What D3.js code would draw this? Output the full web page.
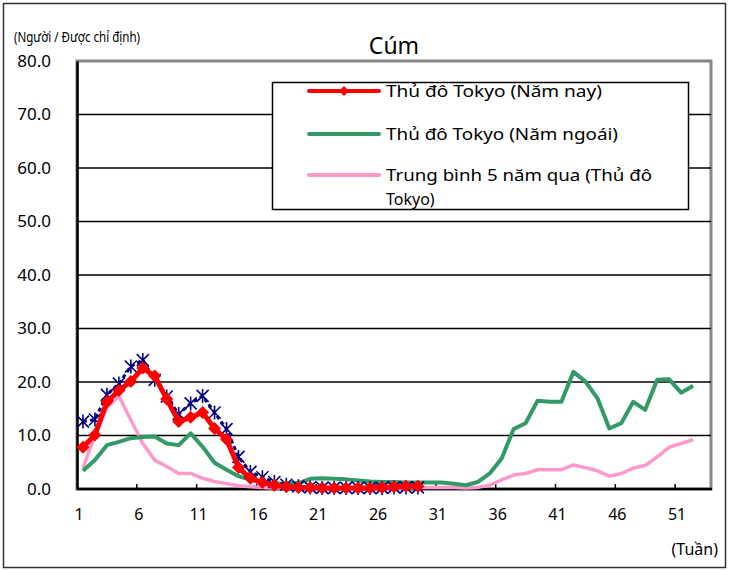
<!DOCTYPE html>
<html lang="vi">
<head>
    <meta charset="UTF-8">
    <title>Cúm</title>
    <style>
        body { margin: 0; background: #fff; }
        text { font-family: "Noto Sans", "DejaVu Sans", sans-serif; fill: #000; }
    </style>
</head>
<body>
<div id="chart"></div>
<script src="https://d3js.org/d3.v7.min.js"></script>
<script>

    // week numbers and series (cases per sentinel site)
    var weeks = d3.range(1, 54);
    var tickWeeks = [1, 6, 11, 16, 21, 26, 31, 36, 41, 46, 51];
    var yTicks = [0, 10, 20, 30, 40, 50, 60, 70, 80];

    var thisYear = [7.8, 10.1, 16.3, 18.4, 20.1, 22.6, 21.1, 16.8, 12.6, 13.4,
        14.3, 11.3, 9.3, 4.0, 2.0, 1.2, 0.7, 0.4, 0.3, 0.3,
        0.2, 0.2, 0.2, 0.2, 0.2, 0.3, 0.4, 0.5, 0.5];

    var nationwide = [12.6, 13.0, 17.6, 19.7, 22.9, 24.1, 20.4, 17.3, 14.0, 16.0,
        17.4, 14.3, 11.2, 6.0, 3.2, 2.2, 1.3, 0.8, 0.5, 0.3,
        0.2, 0.2, 0.2, 0.2, 0.2, 0.2, 0.3, 0.3, 0.3];

    var lastYear = [3.4, 5.4, 8.2, 8.8, 9.5, 9.7, 9.8, 8.5, 8.2, 10.4,
        7.9, 4.9, 3.6, 2.4, 1.7, 1.4, 1.0, 1.0, 1.1, 1.9,
        2.0, 1.9, 1.8, 1.6, 1.4, 1.3, 1.3, 1.2, 1.2, 1.2,
        1.2, 1.0, 0.7, 1.3, 2.9, 5.7, 11.2, 12.3, 16.5, 16.3,
        16.3, 21.9, 20.1, 17.0, 11.3, 12.3, 16.3, 14.8, 20.4, 20.5,
        18.0, 19.3];

    var avg5 = [3.9, 10.0, 15.2, 17.4, 12.9, 8.5, 5.4, 4.2, 2.9, 2.9,
        2.0, 1.4, 1.0, 0.6, 0.4, 0.3, 0.2, 0.2, 0.2, 0.2,
        0.2, 0.2, 0.2, 0.2, 0.2, 0.2, 0.2, 0.2, 0.3, 0.3,
        0.3, 0.3, 0.2, 0.3, 0.7, 1.7, 2.6, 2.9, 3.6, 3.6,
        3.6, 4.5, 4.0, 3.4, 2.4, 2.9, 3.9, 4.4, 6.0, 7.8,
        8.5, 9.2];

    var legendNames = ["Thủ đô Tokyo (Năm nay)", "Thủ đô Tokyo (Năm ngoái)",
        "Trung bình 5 năm qua (Thủ đô", "Tokyo)"];

    var width = 729,
        height = 571;

    var svg = d3.select("#chart").append("svg")
        .attr("width", width)
        .attr("height", height);

    var plotLeft = 77, plotRight = 711, plotTop = 61, plotBottom = 489;

    var x = d3.scaleBand()
        .domain(weeks)
        .range([plotLeft, plotRight]);

    var y = d3.scaleLinear()
        .domain([0, 80])
        .range([plotBottom, plotTop]);

    function cx(d, i) { return x(weeks[i]) + x.bandwidth() / 2; }

    // outer frame
    svg.append("rect")
        .attr("x", 3.5).attr("y", 3.5)
        .attr("width", 722).attr("height", 564)
        .attr("fill", "#fff")
        .attr("stroke", "#333")
        .attr("stroke-width", 1.5);

    // plot frame (gray top/right)
    svg.append("rect")
        .attr("x", plotLeft).attr("y", plotTop)
        .attr("width", plotRight - plotLeft).attr("height", plotBottom - plotTop)
        .attr("fill", "none")
        .attr("stroke", "#888")
        .attr("stroke-width", 3);

    // gridlines
    svg.append("g")
        .selectAll("line")
        .data(yTicks.slice(1, -1))
        .enter().append("line")
        .attr("x1", plotLeft).attr("x2", plotRight)
        .attr("y1", function (d) { return y(d); })
        .attr("y2", function (d) { return y(d); })
        .attr("stroke", "#000")
        .attr("stroke-width", 1.3);

    // y axis
    var yAxis = svg.append("g")
        .attr("transform", "translate(" + plotLeft + ",0)")
        .call(d3.axisLeft(y).tickValues(yTicks).tickSize(0).tickPadding(26)
            .tickFormat(d3.format(".1f")));
    yAxis.select(".domain").attr("stroke", "#000").attr("stroke-width", 2.5);
    yAxis.selectAll("text")
        .attr("font-size", "17px")
        .attr("font-family", "Noto Sans, sans-serif");

    // x axis
    var xAxis = svg.append("g")
        .attr("transform", "translate(0," + plotBottom + ")");
    xAxis.append("line")
        .attr("x1", plotLeft).attr("x2", plotRight + 1)
        .attr("y1", 0).attr("y2", 0)
        .attr("stroke", "#000")
        .attr("stroke-width", 2.5);
    xAxis.selectAll(".tk")
        .data(tickWeeks.slice(1))
        .enter().append("line")
        .attr("class", "tk")
        .attr("x1", function (d) { return x(d); })
        .attr("x2", function (d) { return x(d); })
        .attr("y1", 0).attr("y2", -5)
        .attr("stroke", "#000")
        .attr("stroke-width", 1.5);
    xAxis.selectAll(".lbl")
        .data(tickWeeks)
        .enter().append("text")
        .attr("class", "lbl")
        .attr("x", function (d) { return x(d) + 2; })
        .attr("y", 31)
        .attr("text-anchor", "middle")
        .attr("font-size", "16px")
        .text(function (d) { return d; });

    // series lines
    var line = d3.line()
        .x(cx)
        .y(function (d) { return y(d); });

    svg.append("path")
        .datum(avg5)
        .attr("d", line)
        .attr("fill", "none")
        .attr("stroke", "#ff99cc")
        .attr("stroke-width", 3.5)
        .attr("stroke-linejoin", "round");

    svg.append("path")
        .datum(lastYear)
        .attr("d", line)
        .attr("fill", "none")
        .attr("stroke", "#339966")
        .attr("stroke-width", 4)
        .attr("stroke-linejoin", "round");

    svg.append("path")
        .datum(nationwide)
        .attr("d", line)
        .attr("fill", "none")
        .attr("stroke", "#000080")
        .attr("stroke-width", 3)
        .attr("stroke-dasharray", "4,3");

    // asterisk markers
    var star = svg.append("g")
        .selectAll("g")
        .data(nationwide)
        .enter().append("g")
        .attr("transform", function (d, i) { return "translate(" + cx(d, i) + "," + y(d) + ")"; });
    star.append("path")
        .attr("d", "M-6,-6L6,6M-6,6L6,-6M0,-7L0,7")
        .attr("stroke", "#000080")
        .attr("stroke-width", 1.6);

    svg.append("path")
        .datum(thisYear)
        .attr("d", line)
        .attr("fill", "none")
        .attr("stroke", "#ff0000")
        .attr("stroke-width", 5)
        .attr("stroke-linejoin", "round");

    // wide diamond markers
    svg.append("g")
        .selectAll("path")
        .data(thisYear)
        .enter().append("path")
        .attr("d", "M0,-6.5L6.5,0L0,6.5L-6.5,0Z")
        .attr("transform", function (d, i) { return "translate(" + cx(d, i) + "," + y(d) + ")"; })
        .attr("fill", "#ff0000");

    // legend
    var lg = svg.append("g");
    lg.append("rect")
        .attr("x", 272.5).attr("y", 82.5)
        .attr("width", 416).attr("height", 127)
        .attr("fill", "#fff")
        .attr("stroke", "#000")
        .attr("stroke-width", 1.5);

    var legendRows = [
        {color: "#ff0000", y: 91, w: 4, text: legendNames[0], len: 216},
        {color: "#339966", y: 134, w: 4, text: legendNames[1], len: 232},
        {color: "#ff99cc", y: 175, w: 4, text: legendNames[2], len: 266}
    ];
    lg.selectAll(".ll")
        .data(legendRows)
        .enter().append("line")
        .attr("x1", 309).attr("x2", 379)
        .attr("y1", function (d) { return d.y; })
        .attr("y2", function (d) { return d.y; })
        .attr("stroke", function (d) { return d.color; })
        .attr("stroke-width", function (d) { return d.w; })
        .attr("stroke-linecap", "round");
    lg.append("path")
        .attr("d", "M0,-5L5,0L0,5L-5,0Z")
        .attr("transform", "translate(344,91)")
        .attr("fill", "#ff0000");
    lg.selectAll(".lt")
        .data(legendRows)
        .enter().append("text")
        .attr("x", 386)
        .attr("y", function (d) { return d.y + 6; })
        .attr("font-size", "16px")
        .attr("textLength", function (d) { return d.len; })
        .attr("lengthAdjust", "spacingAndGlyphs")
        .text(function (d) { return d.text; });
    lg.append("text")
        .attr("x", 386).attr("y", 205)
        .attr("font-size", "16px")
        .text(legendNames[3]);

    // titles
    svg.append("text")
        .attr("x", 394).attr("y", 54)
        .attr("text-anchor", "middle")
        .attr("font-size", "23px")
        .text("Cúm");

    svg.append("text")
        .attr("x", 14).attr("y", 42)
        .attr("font-size", "14px")
        .attr("textLength", 126)
        .attr("lengthAdjust", "spacingAndGlyphs")
        .text("(Người / Được chỉ định)");

    svg.append("text")
        .attr("x", 718).attr("y", 555)
        .attr("text-anchor", "end")
        .attr("font-size", "16px")
        .text("(Tuần)");

</script>
</body>
</html>
